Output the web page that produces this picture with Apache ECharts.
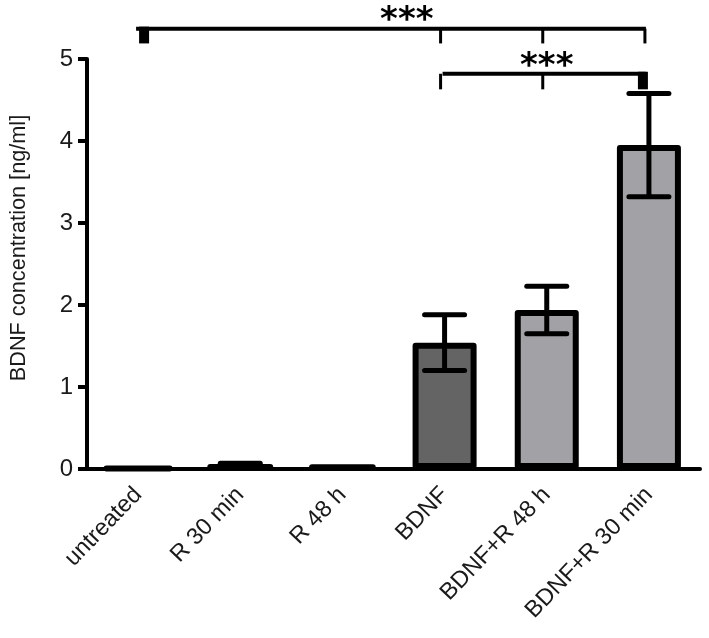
<!DOCTYPE html>
<html>
<head>
<meta charset="utf-8">
<script src="https://cdn.jsdelivr.net/npm/echarts@6/dist/echarts.min.js"></script>
<style>
html,body{margin:0;padding:0;background:#fff;}
#chart{width:709px;height:638px;}
</style>
</head>
<body>
<div id="chart"></div>
<script>
// ---- data ----
const categories = ['untreated', 'R 30 min', 'R 48 h', 'BDNF', 'BDNF+R 48 h', 'BDNF+R 30 min'];
const means = [0.01, 0.05, 0.04, 1.54, 1.94, 3.95];
const errors = [0.0, 0.02, 0.0, 0.34, 0.29, 0.63];
const barColors = ['#a2a2a6', '#a2a2a6', '#a2a2a6', '#646464', '#a2a2a6', '#a2a2a6'];
const yTicks = [0, 1, 2, 3, 4, 5];

// significance brackets
const sigFrom = [0, 3];
const sigTo = [5, 5];
const sigLevel = [5.37, 4.82];
const sigDrop = [5.19, 4.63];
const sigTicks = [[3, 4, 5], [3, 4]];
const sigBlock = [0, 5];
const sigStarPos = [2.63, 4];
const sigLabels = ['***', '***'];

const FONT = '"Liberation Sans", Arial, sans-serif';
const TEXT = '#1a1a1a';

const chart = echarts.init(document.getElementById('chart'), null, {renderer: 'canvas'});

function errRender(params, api) {
  const i = api.value(0), m = api.value(1), e = api.value(2);
  if (e <= 0) return null;
  const top = api.coord([i, m + e]);
  const bot = api.coord([i, m - e]);
  const half = 20;
  const st = {stroke: '#000', lineWidth: 5, lineCap: 'round'};
  return {
    type: 'group',
    children: [
      {type: 'line', shape: {x1: top[0], y1: top[1], x2: bot[0], y2: bot[1]}, style: {stroke: '#000', lineWidth: 5}},
      {type: 'line', shape: {x1: top[0] - half, y1: top[1], x2: top[0] + half, y2: top[1]}, style: st},
      {type: 'line', shape: {x1: bot[0] - half, y1: bot[1], x2: bot[0] + half, y2: bot[1]}, style: st}
    ]
  };
}

function sigRender(params, api) {
  const k = params.dataIndex;
  const a = api.coord([sigFrom[k], sigLevel[k]]);
  const b = api.coord([sigTo[k], sigLevel[k]]);
  const children = [];
  children.push({type: 'line', shape: {x1: a[0] - 2, y1: a[1], x2: b[0] - 3, y2: b[1]},
    style: {stroke: '#000', lineWidth: 4}});
  sigTicks[k].forEach(function (t) {
    const p = api.coord([t, sigLevel[k]]);
    const q = api.coord([t, sigDrop[k]]);
    children.push({type: 'line', shape: {x1: p[0] - 4, y1: p[1], x2: q[0] - 4, y2: q[1]},
      style: {stroke: '#000', lineWidth: 3}});
  });
  const bp = api.coord([sigBlock[k], sigLevel[k]]);
  const bq = api.coord([sigBlock[k], sigDrop[k]]);
  const bx = sigBlock[k] === sigFrom[k] ? bp[0] + 1 : bp[0] - 11;
  children.push({type: 'rect', shape: {x: bx, y: bp[1] - 2, width: 10, height: bq[1] - bp[1] + 2},
    style: {fill: '#000'}});
  const s0 = Math.floor(sigStarPos[k]);
  const c0 = api.coord([s0, sigLevel[k]]);
  const c1 = api.coord([s0 + 1, sigLevel[k]]);
  const sx = c0[0] + (sigStarPos[k] - s0) * (c1[0] - c0[0]);
  children.push({type: 'text', x: sx, y: a[1] + 10, style: {
    text: sigLabels[k], fill: '#000', font: 'bold 34px "DejaVu Sans", sans-serif',
    align: 'center', verticalAlign: 'bottom'}});
  return {type: 'group', children: children};
}

const option = {
  backgroundColor: '#ffffff',
  animation: false,
  grid: {left: 83, right: 9, top: 59, bottom: 169, containLabel: false},
  xAxis: {
    type: 'category',
    data: categories,
    axisLine: {lineStyle: {color: '#000', width: 4}},
    axisTick: {alignWithLabel: true, length: 10, lineStyle: {color: '#000', width: 4}},
    axisLabel: {rotate: 46, fontSize: 23.5, fontFamily: FONT, color: TEXT, margin: 22, interval: 0}
  },
  yAxis: {
    type: 'value',
    min: 0, max: 5, interval: 1,
    name: 'BDNF concentration [ng/ml]',
    nameLocation: 'middle',
    nameGap: 57,
    nameTextStyle: {fontSize: 21.7, fontFamily: FONT, color: TEXT, padding: [0, 0, 0, 32]},
    axisLine: {show: true, lineStyle: {color: '#000', width: 4}},
    axisTick: {show: true, length: 9, lineStyle: {color: '#000', width: 4}},
    axisLabel: {fontSize: 24, fontFamily: FONT, color: TEXT, margin: 14,
      formatter: function (v) { return yTicks.indexOf(v) >= 0 ? String(v) : ''; }},
    splitLine: {show: false}
  },
  series: [
    {
      type: 'bar',
      barWidth: 64,
      data: means.map(function (v, i) {
        return {value: v, itemStyle: {color: barColors[i], borderColor: '#000', borderWidth: 6, borderJoin: 'round'}};
      }),
      z: 2
    },
    {
      type: 'custom',
      renderItem: errRender,
      data: means.map(function (v, i) { return [i, v, errors[i]]; }),
      z: 3
    },
    {
      type: 'custom',
      renderItem: sigRender,
      clip: false,
      data: sigLevel.map(function (v, k) { return [sigFrom[k], v]; }),
      z: 4
    }
  ]
};
chart.setOption(option);
</script>
</body>
</html>
